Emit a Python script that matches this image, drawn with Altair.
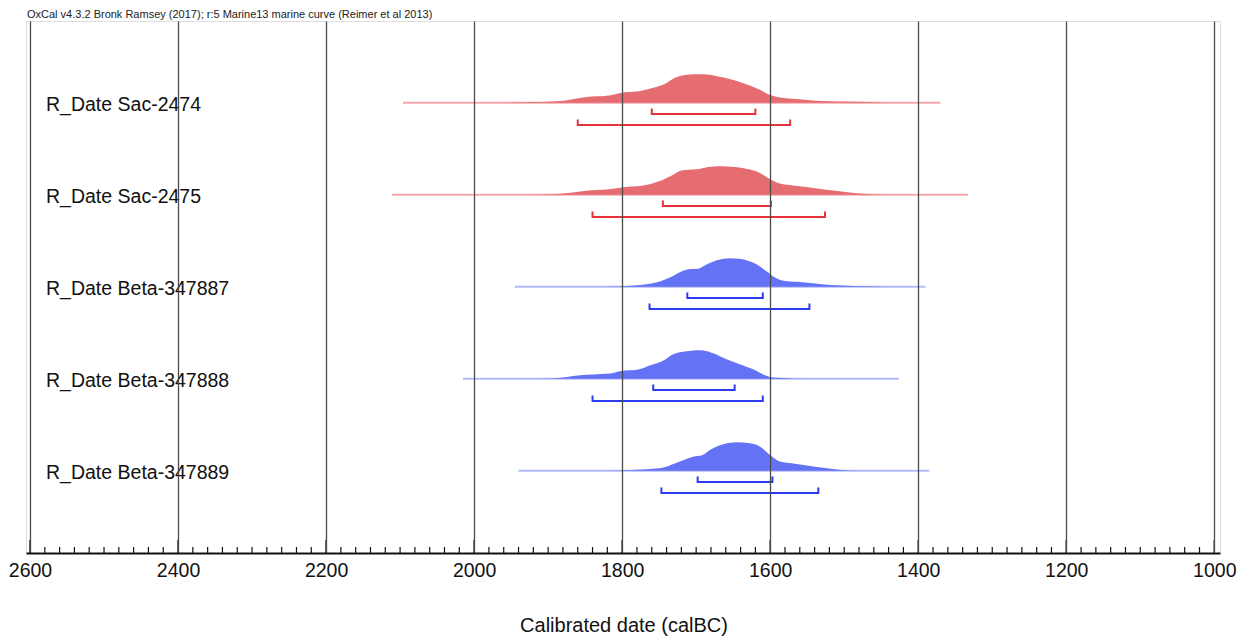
import altair as alt
import pandas as pd

HEADER = "OxCal v4.3.2 Bronk Ramsey (2017); r:5 Marine13 marine curve (Reimer et al 2013)"
X_TITLE = "Calibrated date (calBC)"

samples = ["Sac-2474", "Sac-2475", "Beta-347887", "Beta-347888", "Beta-347889"]
labs = ["Sac", "Sac", "Beta", "Beta", "Beta"]

# probability curves: calendar years (cal BC) and relative probability (peak = 100)
sac2474_years = [1990, 1924, 1879, 1861, 1848, 1821, 1798, 1780, 1762, 1744, 1726, 1708, 1697,
                 1686, 1663, 1636, 1614, 1600, 1587, 1564, 1542, 1496, 1440]
sac2474_prob = [0, 2, 7, 15, 20, 24, 36, 39, 50, 64, 90, 99, 100,
                99, 88, 68, 45, 27, 18, 13, 8, 4, 0]

sac2475_years = [1960, 1906, 1870, 1848, 1821, 1798, 1774, 1749, 1731, 1720, 1699, 1681, 1670,
                 1659, 1636, 1618, 1600, 1587, 1569, 1546, 1524, 1501, 1479, 1456, 1420]
sac2475_prob = [0, 1, 7, 14, 18, 26, 31, 48, 70, 85, 89, 98, 100,
                99, 93, 81, 54, 39, 32, 25, 17, 10, 4, 1, 0]

beta347887_years = [1850, 1812, 1776, 1749, 1735, 1722, 1708, 1698, 1686, 1672, 1654, 1641,
                    1627, 1618, 1605, 1594, 1582, 1564, 1542, 1519, 1452, 1420]
beta347887_prob = [0, 1, 6, 18, 33, 51, 62, 63, 78, 93, 100, 98,
                   88, 78, 54, 33, 21, 17, 12, 6, 1, 0]

beta347888_years = [1950, 1897, 1875, 1857, 1839, 1816, 1801, 1780, 1762, 1744, 1731, 1713,
                    1700, 1690, 1677, 1659, 1641, 1623, 1607, 1596, 1569, 1529]
beta347888_prob = [0, 1, 6, 12, 15, 18, 27, 31, 47, 64, 86, 96,
                   100, 99, 89, 68, 51, 33, 12, 4, 1, 0]

beta347889_years = [1850, 1807, 1767, 1744, 1729, 1715, 1704, 1692, 1681, 1668, 1645, 1627,
                    1614, 1600, 1587, 1569, 1555, 1537, 1515, 1492, 1460]
beta347889_prob = [0, 1, 5, 11, 25, 39, 49, 54, 73, 89, 100, 96,
                   85, 55, 32, 25, 20, 13, 6, 1, 0]

curve_years = [sac2474_years, sac2475_years, beta347887_years, beta347888_years, beta347889_years]
curve_probs = [sac2474_prob, sac2475_prob, beta347887_prob, beta347888_prob, beta347889_prob]

# calculated range (faint line), 68.2% and 95.4% ranges (cal BC)
range_start = [2096, 2111, 1945, 2015, 1940]
range_end = [1370, 1333, 1390, 1426, 1385]
r68_start = [1760, 1745, 1712, 1758, 1698]
r68_end = [1620, 1599, 1610, 1648, 1597]
r95_start = [1860, 1840, 1763, 1840, 1747]
r95_end = [1573, 1526, 1547, 1610, 1535]

major_ticks = list(range(1000, 2601, 200))
minor_ticks = [y for y in range(1000, 2601, 20) if y % 200 != 0]

# ---- tables built from the arrays ----
rows = []
for i, (s, g) in enumerate(zip(samples, labs)):
    for yr, p in zip(curve_years[i], curve_probs[i]):
        rows.append({"sample": s, "lab": g, "row": i + 1, "year": yr, "p": p})
dens = pd.DataFrame(rows)

info = pd.DataFrame({
    "sample": samples, "lab": labs, "row": list(range(1, len(samples) + 1)),
    "label": ["R_Date " + s for s in samples],
    "rs": range_start, "re": range_end,
    "s68": r68_start, "e68": r68_end,
    "s95": r95_start, "e95": r95_end,
})
ticks_df = pd.DataFrame({"yr": major_ticks + minor_ticks,
                         "kind": ["major"] * len(major_ticks) + ["minor"] * len(minor_ticks)})

FONT = "Liberation Sans"
lab_dom = ["Sac", "Beta"]

xscale = alt.Scale(domain=[992.3, 2605.4], reverse=True, nice=False, zero=False)
yscale = alt.Scale(domain=[0.112, 5.895], reverse=True, nice=False, zero=False)

xaxis = alt.Axis(values=major_ticks, grid=True, gridColor="#4a4a4a", gridWidth=1.3,
                 ticks=False, tickSize=0, domain=True, domainColor="#111111", domainWidth=2,
                 labelFontSize=19.5, labelFont=FONT, labelColor="#111111", labelPadding=8,
                 labelFlush=False, labelOverlap=False, format="d", title=None, zindex=1)

base_line = alt.Chart(info).mark_rule(strokeWidth=2).encode(
    x=alt.X("rs:Q", scale=xscale, axis=xaxis),
    x2="re:Q",
    y=alt.Y("row:Q", scale=yscale, axis=None),
    color=alt.Color("lab:N", scale=alt.Scale(domain=lab_dom, range=["#f5a7ab", "#b3bbfa"]), legend=None),
)

area = alt.Chart(dens).transform_calculate(
    top="datum.row - datum.p * 0.0031"
).mark_area(interpolate="monotone").encode(
    x=alt.X("year:Q", scale=xscale),
    y=alt.Y("top:Q", scale=yscale),
    y2="row:Q",
    detail="sample:N",
    fill=alt.Fill("lab:N", scale=alt.Scale(domain=lab_dom, range=["#e56c70", "#6473f5"]), legend=None),
)

stroke_scale = alt.Scale(domain=lab_dom, range=["#e5323b", "#2b3cf0"])


def bracket(s_field, e_field, off):
    h = alt.Chart(info).mark_rule(strokeWidth=2, yOffset=off).encode(
        x=alt.X(f"{s_field}:Q", scale=xscale), x2=f"{e_field}:Q",
        y=alt.Y("row:Q", scale=yscale),
        stroke=alt.Stroke("lab:N", scale=stroke_scale, legend=None),
    )
    v = alt.Chart(info).transform_fold([s_field, e_field], as_=["end", "xv"]).mark_rule(
        strokeWidth=2, yOffset=off - 5.5, y2Offset=off + 1).encode(
        x=alt.X("xv:Q", scale=xscale),
        y=alt.Y("row:Q", scale=yscale), y2="row:Q",
        stroke=alt.Stroke("lab:N", scale=stroke_scale, legend=None),
    )
    return h + v


b68 = bracket("s68", "e68", 11.3)
b95 = bracket("s95", "e95", 22.3)

labels = alt.Chart(info).mark_text(align="left", baseline="alphabetic", dy=8.5,
                                   font=FONT, fontSize=19.5, color="#111111").encode(
    x=alt.value(20),
    y=alt.Y("row:Q", scale=yscale),
    text="label:N",
)

major = alt.Chart(ticks_df).transform_filter("datum.kind == 'major'").mark_rule(
    color="#111111", strokeWidth=1.4).encode(
    x=alt.X("yr:Q", scale=xscale), y=alt.value(532), y2=alt.value(519))
minor = alt.Chart(ticks_df).transform_filter("datum.kind == 'minor'").mark_rule(
    color="#111111", strokeWidth=1.2).encode(
    x=alt.X("yr:Q", scale=xscale), y=alt.value(532), y2=alt.value(526))

header = alt.Chart(pd.DataFrame({"t": [HEADER]})).mark_text(
    align="left", baseline="alphabetic", font=FONT, fontSize=11, color="#222222").encode(
    text="t:N", x=alt.value(1), y=alt.value(-3.5))

xtitle = alt.Chart(pd.DataFrame({"t": [X_TITLE]})).mark_text(
    align="center", baseline="alphabetic", font=FONT, fontSize=20, color="#111111").encode(
    text="t:N", x=alt.value(598), y=alt.value(611))

chart = alt.layer(base_line, area, b68, b95, labels, major, minor, header, xtitle).resolve_scale(
    color="independent", fill="independent", stroke="independent"
).properties(
    width=1194, height=532,
    padding={"left": 18, "top": 13, "right": 20, "bottom": 84},
    autosize=alt.AutoSizeParams(type="none"),
).configure_view(stroke="#555555", strokeWidth=1.2).configure(background="white")

chart.save("out.html", embed_options={"renderer": "svg", "actions": False})
